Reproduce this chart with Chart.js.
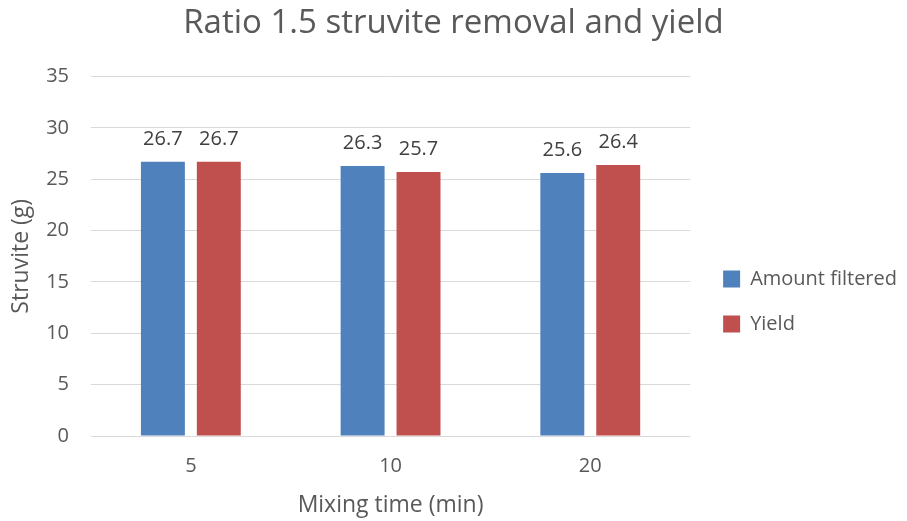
<!DOCTYPE html>
<html><head><meta charset="utf-8">
<script src="https://cdn.jsdelivr.net/npm/chart.js@4"></script>
<style>html,body{margin:0;padding:0;background:#fff;}canvas{display:block;}</style>
</head><body>
<canvas id="c" width="907" height="521"></canvas>
<script>
const categories = ['5', '10', '20'];
const amountFiltered = [26.7, 26.3, 25.6];
const yieldValues = [26.7, 25.7, 26.4];
const seriesNames = ['Amount filtered', 'Yield'];
const FONT = "'Open Sans', sans-serif";
const TXT = '#595959';

const dataLabels = {
  id: 'dataLabels',
  afterDatasetsDraw(chart) {
    const ctx = chart.ctx;
    ctx.save();
    ctx.font = '20px ' + FONT;
    ctx.fillStyle = '#404040';
    ctx.textAlign = 'center';
    ctx.textBaseline = 'alphabetic';
    chart.data.datasets.forEach((ds, i) => {
      chart.getDatasetMeta(i).data.forEach((el, j) => {
        ctx.fillText(ds.data[j].toFixed(1), el.x, el.y - 17);
      });
    });
    ctx.restore();
  }
};

new Chart(document.getElementById('c'), {
  type: 'bar',
  data: {
    labels: categories,
    datasets: [
      { label: seriesNames[0], data: amountFiltered, backgroundColor: '#4f81bd', categoryPercentage: 0.56, barPercentage: 0.786 },
      { label: seriesNames[1], data: yieldValues, backgroundColor: '#c0504d', categoryPercentage: 0.56, barPercentage: 0.786 }
    ]
  },
  options: {
    responsive: false,
    animation: false,
    layout: { padding: { left: 0, right: 0, top: 4, bottom: 2 } },
    plugins: {
      title: { display: true, text: 'Ratio 1.5 struvite removal and yield', color: TXT, font: { family: FONT, size: 33, weight: 'normal' }, padding: { top: 0, bottom: 33 } },
      legend: {
        position: 'right',
        maxWidth: 260,
        title: { display: true, text: '', font: { family: FONT, size: 20 }, padding: { top: 28, bottom: 28 } },
        labels: { color: TXT, font: { family: FONT, size: 20 }, boxWidth: 17, boxHeight: 17, padding: 25 }
      },
      tooltip: { enabled: false }
    },
    scales: {
      x: {
        grid: { display: false, drawTicks: false },
        border: { display: false },
        ticks: { color: TXT, font: { family: FONT, size: 20 }, padding: 18 },
        title: { display: true, text: 'Mixing time (min)', color: TXT, font: { family: FONT, size: 23 }, padding: { top: 0, bottom: 0 } },
        afterFit(s) { s.height = 83; }
      },
      y: {
        min: 0, max: 35,
        ticks: { stepSize: 5, color: TXT, font: { family: FONT, size: 20 }, padding: 22 },
        grid: { color: '#d9d9d9', drawTicks: false },
        border: { display: false },
        title: { display: true, text: 'Struvite (g)', color: TXT, font: { family: FONT, size: 23 }, padding: { top: 8, bottom: 0 } },
        afterFit(s) { s.width = 91; }
      },
      spacer: {
        position: 'right',
        display: true,
        grid: { display: false, drawTicks: false },
        border: { display: false },
        ticks: { display: false },
        afterFit(s) { s.width = 8; }
      }
    }
  },
  plugins: [dataLabels]
});
</script>
</body></html>
